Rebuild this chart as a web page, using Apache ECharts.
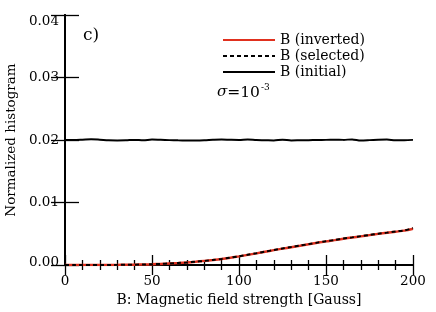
<!DOCTYPE html>
<html><head><meta charset="utf-8">
<script src="https://cdn.jsdelivr.net/npm/echarts@6/dist/echarts.min.js"></script>
<style>html,body{margin:0;padding:0;background:#fff}#c{width:436px;height:312px}</style>
</head><body><div id="c"></div>
<script>
const bField = [0,5,10,15,20,25,30,35,40,45,50,55,60,65,70,75,80,85,90,95,100,105,110,115,120,125,130,135,140,145,150,155,160,165,170,175,180,185,190,195,200];
const inverted = [0,0,0,0,0,0.00001,0.00002,0.00003,0.00005,0.00008,0.00012,0.00017,0.00024,0.00031,0.0004,0.00052,0.00066,0.0008,0.00096,0.00116,0.00138,0.00162,0.00186,0.00212,0.00238,0.00262,0.00285,0.00308,0.00332,0.00355,0.00378,0.00398,0.0042,0.0044,0.00458,0.00478,0.00498,0.00516,0.00533,0.0055,0.0058];
const selected = [0,0,0,0,0,0.00001,0.00002,0.00003,0.00005,0.00009,0.00012,0.00018,0.00024,0.00032,0.0004,0.00053,0.00065,0.00081,0.00097,0.00117,0.00139,0.00164,0.00187,0.00214,0.00238,0.00265,0.00287,0.0031,0.00334,0.00358,0.00381,0.00399,0.00423,0.00442,0.00462,0.0048,0.00501,0.00518,0.00537,0.00553,0.00592];
const initial = [0.0200,0.0200,0.02005,0.02012,0.02005,0.01995,0.01993,0.01995,0.02002,0.01995,0.02008,0.02003,0.01998,0.01995,0.01993,0.01992,0.01995,0.02003,0.02008,0.02003,0.0200,0.02008,0.0200,0.01997,0.01993,0.02005,0.01993,0.01995,0.01997,0.0200,0.02002,0.02003,0.02002,0.0201,0.01993,0.01998,0.02005,0.02008,0.01995,0.01997,0.02002];
const seriesNames = ['B (inverted)','B (selected)','B (initial)'];
const xTicks = [0,50,100,150,200];
const yTicks = [0.00,0.01,0.02,0.03,0.04];

const FONT = 'DejaVu Serif';
const pair = arr => bField.map((x,i)=>[x,arr[i]]);
const chart = echarts.init(document.getElementById('c'));
const axLine = {show:true, lineStyle:{color:'#000', width:2}};
const tickStyle = {color:'#000', width:1.3};
chart.setOption({
  animation:false,
  grid:{left:65,right:23,top:15,bottom:47, outerBoundsMode:'none', containLabel:false},
  xAxis:[{
    type:'value', min:0, max:200, interval:50,
    axisLine:axLine,
    axisTick:{show:true, inside:true, length:10, lineStyle:tickStyle},
    minorTick:{show:true, splitNumber:5, length:5, lineStyle:tickStyle},
    splitLine:{show:false},
    axisLabel:{fontFamily:FONT, fontSize:13.5, color:'#000', margin:9, formatter:v=>xTicks.includes(v)?String(v):''},
    name:'B: Magnetic field strength [Gauss]', nameLocation:'middle', nameGap:26,
    nameTextStyle:{fontFamily:FONT, fontSize:14, color:'#000'}
  },{
    type:'value', position:'top', min:0, max:200, interval:50,
    axisLine:axLine,
    axisTick:{show:true, inside:true, length:10, lineStyle:tickStyle},
    minorTick:{show:true, splitNumber:5, length:5, lineStyle:tickStyle},
    splitLine:{show:false}, axisLabel:{show:false}
  }],
  yAxis:[{
    type:'value', min:0, max:0.04, interval:0.01,
    axisLine:axLine,
    axisTick:{show:true, inside:true, length:14, lineStyle:tickStyle},
    splitLine:{show:false},
    axisLabel:{fontFamily:FONT, fontSize:13.5, color:'#000', margin:6,
      formatter:v=>{const s=v.toFixed(2); if(Math.abs(v-yTicks[4])<1e-9) return '{t|'+s+'}'; if(Math.abs(v-yTicks[0])<1e-9) return '{b|'+s+'}'; return s;},
      rich:{t:{padding:[12,0,0,0]}, b:{padding:[0,0,6,0]}}},
    name:'Normalized histogram', nameLocation:'middle', nameGap:43,
    nameTextStyle:{fontFamily:FONT, fontSize:13.5, color:'#000'}
  },{
    type:'value', position:'right', min:0, max:0.04, interval:0.01,
    axisLine:axLine,
    axisTick:{show:true, inside:true, length:14, lineStyle:tickStyle},
    splitLine:{show:false}, axisLabel:{show:false}
  }],
  legend:{
    orient:'vertical', left:222, top:32, itemWidth:52, itemHeight:10, itemGap:0, padding:0,
    itemStyle:{color:'rgba(0,0,0,0)', borderWidth:0, opacity:0},
    lineStyle:{width:2},
    textStyle:{fontFamily:FONT, fontSize:14, lineHeight:16, color:'#000'},
    data:seriesNames
  },
  graphic:[
    {type:'text', left:83, top:27, style:{text:'c)', fontFamily:FONT, fontSize:17, fill:'#000'}},
    {type:'text', left:217, top:83, style:{
      text:'{s|σ}{n|=10}{p|-3}', rich:{
        s:{fontFamily:FONT, fontStyle:'italic', fontSize:15, fill:'#000'},
        n:{fontFamily:FONT, fontSize:15.5, fill:'#000'},
        p:{fontFamily:FONT, fontSize:9, fill:'#000', padding:[0,0,10,1]}
      }}}
  ],
  series:[
    {name:seriesNames[0], type:'line', data:pair(inverted), showSymbol:false, symbol:'none', smooth:0.3,
     lineStyle:{color:'#e0301e', width:2.5}, itemStyle:{color:'#e0301e'}, z:2},
    {name:seriesNames[1], type:'line', data:pair(selected), showSymbol:false, symbol:'none', smooth:0.3,
     lineStyle:{color:'#000', width:2, type:[4,3]}, itemStyle:{color:'#000'}, z:3},
    {name:seriesNames[2], type:'line', data:pair(initial), showSymbol:false, symbol:'none', smooth:0.3,
     lineStyle:{color:'#000', width:2}, itemStyle:{color:'#000'}, z:3}
  ]
});
</script></body></html>
